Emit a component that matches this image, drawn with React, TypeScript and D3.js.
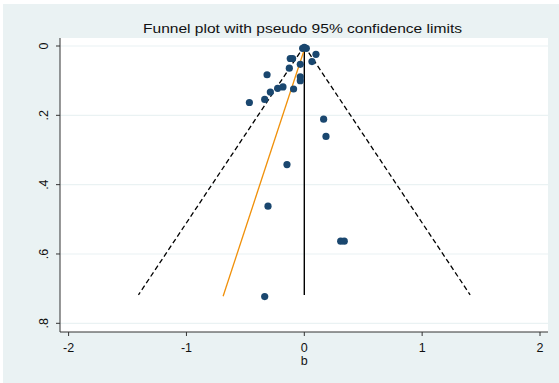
import React from "react";
import * as d3 from "d3";

// Study effect sizes (b) and standard errors (se)
const bValues = [
  -0.014, 0.017, 0.0, 0.099, -0.119, -0.099, 0.065, -0.034, -0.127, -0.316,
  -0.034, -0.034, -0.288, -0.226, -0.181, -0.091, -0.336, -0.466, 0.164,
  0.184, -0.147, -0.308, 0.309, 0.339, -0.336,
];
const seValues = [
  0.0066, 0.0066, 0.004, 0.024, 0.036, 0.036, 0.045, 0.053, 0.064, 0.083,
  0.089, 0.1, 0.133, 0.122, 0.118, 0.124, 0.154, 0.163, 0.211, 0.261, 0.342,
  0.462, 0.563, 0.563, 0.723,
];

const xTicks = [-2, -1, 0, 1, 2];
const yTicks = [0, 0.2, 0.4, 0.6, 0.8];
const yTickLabels = ["0", ".2", ".4", ".6", ".8"];

// Pooled estimate, max se for the funnel, and Egger regression line ends
const pooled = 0.0;
const maxSe = 0.718;
const eggerB = [0.01, -0.689];
const eggerSe = [0.0, 0.722];

const title = "Funnel plot with pseudo 95% confidence limits";
const xTitle = "b";

const W = 559;
const H = 383;
const BG = "#EAF2F3";
const NAVY = "#1A476F";
const ORANGE = "#F0900A";
const FONT = "'Liberation Sans', Arial, sans-serif";

export default function App() {
  const plotLeft = 60;
  const plotRight = 548;
  const plotTop = 38;
  const plotBottom = 332;

  const x = d3.scaleLinear().domain([-2, 2]).range([68.6, 540]);
  const y = d3.scaleLinear().domain([0, 0.8]).range([46, 323.3]);

  const line = d3
    .line<[number, number]>()
    .x((d) => x(d[0]))
    .y((d) => y(d[1]));

  const lowerCI: [number, number][] = [
    [pooled, 0],
    [pooled - 1.96 * maxSe, maxSe],
  ];
  const upperCI: [number, number][] = [
    [pooled, 0],
    [pooled + 1.96 * maxSe, maxSe],
  ];
  const centre: [number, number][] = [
    [pooled, 0],
    [pooled, maxSe],
  ];
  const egger: [number, number][] = [
    [eggerB[0], eggerSe[0]],
    [eggerB[1], eggerSe[1]],
  ];

  const points = bValues.map((b, i) => ({ b, se: seValues[i] }));

  return (
    <svg
      width={W}
      height={H}
      style={{ position: "absolute", left: 0, top: 0, display: "block" }}
      fontFamily={FONT}
    >
      <rect x={0} y={0} width={W} height={H} fill="#ffffff" />
      <rect x={3} y={4} width={W - 3} height={H - 4} fill={BG} />
      <rect
        x={plotLeft}
        y={plotTop}
        width={plotRight - plotLeft}
        height={plotBottom - plotTop}
        fill="#ffffff"
      />
      {/* horizontal gridlines */}
      {yTicks.map((t) => (
        <line
          key={"g" + t}
          x1={plotLeft}
          x2={plotRight}
          y1={y(t)}
          y2={y(t)}
          stroke={BG}
          strokeWidth={1.2}
        />
      ))}

      <text
        x={302.5}
        y={32.5}
        textAnchor="middle"
        fontSize={13.5}
        textLength={319}
        lengthAdjust="spacingAndGlyphs"
        fill="#111"
      >
        {title}
      </text>

      {/* axes */}
      <line x1={plotLeft} x2={plotLeft} y1={plotTop} y2={plotBottom} stroke="#333" strokeWidth={1} />
      <line x1={plotLeft} x2={plotRight} y1={plotBottom} y2={plotBottom} stroke="#333" strokeWidth={1} />
      {yTicks.map((t, i) => (
        <g key={"y" + t}>
          <line x1={plotLeft - 4} x2={plotLeft} y1={y(t)} y2={y(t)} stroke="#333" strokeWidth={1} />
          <text
            transform={`translate(47.5,${y(t)}) rotate(-90)`}
            textAnchor="middle"
            fontSize={12.5}
            fill="#111"
          >
            {yTickLabels[i]}
          </text>
        </g>
      ))}
      {xTicks.map((t) => (
        <g key={"x" + t}>
          <line x1={x(t)} x2={x(t)} y1={plotBottom} y2={plotBottom + 4} stroke="#333" strokeWidth={1} />
          <text x={x(t)} y={352} textAnchor="middle" fontSize={12.5} fill="#111">
            {t}
          </text>
        </g>
      ))}
      <text x={x(0)} y={365} textAnchor="middle" fontSize={12.5} fill="#111">
        {xTitle}
      </text>

      {/* pseudo 95% confidence limits */}
      <path d={line(lowerCI) || ""} fill="none" stroke="#000" strokeWidth={1.3} strokeDasharray="5,3" />
      <path d={line(upperCI) || ""} fill="none" stroke="#000" strokeWidth={1.3} strokeDasharray="5,3" />
      <path d={line(centre) || ""} fill="none" stroke="#000" strokeWidth={1.4} />
      <path d={line(egger) || ""} fill="none" stroke={ORANGE} strokeWidth={1.3} />

      {points.map((p, i) => (
        <circle key={i} cx={x(p.b)} cy={y(p.se)} r={3.6} fill={NAVY} />
      ))}
    </svg>
  );
}
